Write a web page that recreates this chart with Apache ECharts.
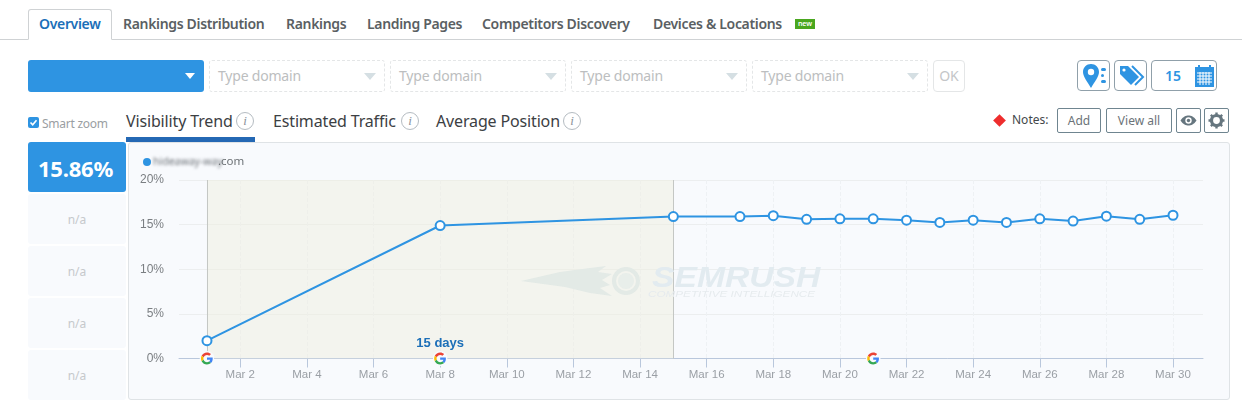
<!DOCTYPE html>
<html>
<head>
<meta charset="utf-8">
<title>Overview</title>
<script src="https://cdn.jsdelivr.net/npm/echarts@6/dist/echarts.min.js"></script>
<style>
    html, body { margin: 0; padding: 0; background: #fff; }
    body { width: 1242px; height: 404px; overflow: hidden; position: relative; font-family: "Noto Sans", sans-serif; }
    #center { position: absolute; left: 0; top: 0; width: 1242px; height: 404px; }
    .a { position: absolute; box-sizing: border-box; white-space: nowrap; }
    .tab { top: 15px; font-size: 14px; line-height: 18px; font-weight: 600; color: #5a5f63; letter-spacing: -0.33px; }
    .pick { top: 60px; width: 176px; height: 32px; border: 1px dashed #e4e6e7; border-radius: 3px; color: #bcbec0; font-size: 14px; line-height: 30px; padding-left: 8px; letter-spacing: -0.2px; }
    .pick i { position: absolute; right: 8px; top: 12px; border: 6px solid transparent; border-top: 7px solid #d5dfe3; border-bottom: 0; }
    .btn { border: 1px solid #6f8590; border-radius: 2px; top: 108px; height: 25px; font-size: 12px; line-height: 23px; text-align: center; color: #6b7378; }
    .tool { top: 60px; height: 31px; border: 1px solid #90a0aa; border-radius: 4px; }
    .metric { top: 111px; font-size: 16px; line-height: 20px; color: #3c4043; letter-spacing: -0.15px; }
    .info { top: 112px; width: 18px; height: 18px; border: 1px solid #b5bcc2; border-radius: 50%; font: italic 13px/16px "Liberation Serif", serif; text-align: center; color: #8a9299; }
    .na { left: 28px; width: 98px; height: 50px; background: #f8fafd; border-radius: 3px; text-align: center; font-size: 12px; line-height: 52px; color: #c6c9cc; }
</style>
</head>
<body>
    <div class="a" style="left:0;top:39px;width:1242px;height:1px;background:#cfd2d4"></div>
    <div class="a" style="left:28px;top:9px;width:84px;height:31px;border:1px solid #cfd2d4;border-bottom:1px solid #fff;border-radius:3px 3px 0 0;background:#fff"></div>
    <div class="a tab" style="left:39px;color:#1b6fb8">Overview</div>
    <div class="a tab" style="left:123px">Rankings Distribution</div>
    <div class="a tab" style="left:286px">Rankings</div>
    <div class="a tab" style="left:367px">Landing Pages</div>
    <div class="a tab" style="left:482px">Competitors Discovery</div>
    <div class="a tab" style="left:653px">Devices &amp; Locations</div>
    <div class="a" style="left:795px;top:19px;width:20px;height:10px;background:#4aa71f;color:#fff;font-size:7px;line-height:10px;text-align:center;font-weight:600">new</div>

    <div class="a" style="left:28px;top:60px;width:176px;height:32px;background:#2e94e2;border-radius:3px">
        <div class="a" style="right:9px;top:13px;border:5px solid transparent;border-top:6px solid #fff;border-bottom:0"></div>
    </div>
    <div class="a pick" style="left:209px">Type domain<i></i></div>
    <div class="a pick" style="left:390px">Type domain<i></i></div>
    <div class="a pick" style="left:571px">Type domain<i></i></div>
    <div class="a pick" style="left:752px">Type domain<i></i></div>
    <div class="a" style="left:933px;top:60px;width:32px;height:32px;border:1px solid #e4e6e7;border-radius:4px;color:#c4c6c8;font-size:14px;line-height:30px;text-align:center">OK</div>

    <div class="a tool" style="left:1077px;width:33px">
        <svg width="31" height="29" viewBox="0 0 31 29"><path d="M13 3c-4.500 0-8 3.500-8 8 0 4.500 4.500 10 8 16 3.500-6 8-11.500 8-16 0-4.500-3.500-8-8-8z" fill="#2e94e2"/><circle cx="13" cy="11" r="3.200" fill="#fff"/><rect x="23" y="7" width="5" height="3" rx="1.500" fill="#2e94e2"/><rect x="23" y="13" width="3" height="3" rx="1.500" fill="#2e94e2"/><rect x="23" y="19" width="5" height="3" rx="1.500" fill="#2e94e2"/></svg>
    </div>
    <div class="a tool" style="left:1114px;width:33px">
        <svg width="31" height="29" viewBox="0 0 31 29"><path d="M5 5h8l11 11-8 8L5 13z" fill="#2e94e2"/><path d="M17 5l11 11-8 8" fill="none" stroke="#2e94e2" stroke-width="2"/><circle cx="9" cy="9" r="1.600" fill="#fff"/></svg>
    </div>
    <div class="a tool" style="left:1151px;width:66px">
        <div class="a" style="left:13px;top:5px;color:#2e94e2;font-size:14px;line-height:20px;font-weight:600">15</div>
        <svg class="a" style="left:43px;top:4px" width="19" height="22" viewBox="0 0 19 22"><rect x="0" y="2" width="19" height="20" fill="#2e94e2"/><rect x="3" y="0" width="2" height="4" fill="#2e94e2"/><rect x="14" y="0" width="2" height="4" fill="#2e94e2"/><path d="M2 8h15M2 11h15M2 14h15M2 17h15M5 7v13M8 7v13M11 7v13M14 7v13" stroke="#fff" stroke-width="1"/></svg>
    </div>

    <div class="a" style="left:28px;top:117px;width:11px;height:11px;background:#2e94e2;border-radius:2px">
        <svg class="a" style="left:0;top:0" width="11" height="11" viewBox="0 0 11 11"><path d="M2.500 5.500l2.200 2.300 3.800-4.500" fill="none" stroke="#fff" stroke-width="1.600"/></svg>
    </div>
    <div class="a" style="left:42px;top:115px;font-size:12px;line-height:17px;color:#9a9ea2;letter-spacing:-0.25px">Smart zoom</div>
    <div class="a metric" style="left:126px">Visibility Trend</div>
    <div class="a info" style="left:236px">i</div>
    <div class="a metric" style="left:273px">Estimated Traffic</div>
    <div class="a info" style="left:401px">i</div>
    <div class="a metric" style="left:436px">Average Position</div>
    <div class="a info" style="left:563px">i</div>
    <div class="a" style="left:126px;top:137px;width:129px;height:5px;background:#2468b4"></div>

    <div class="a" style="left:995px;top:116px;width:9px;height:9px;background:#ee2d2d;transform:rotate(45deg)"></div>
    <div class="a" style="left:1012px;top:111px;font-size:12px;line-height:18px;color:#43474a">Notes:</div>
    <div class="a btn" style="left:1057px;width:44px">Add</div>
    <div class="a btn" style="left:1106px;width:66px">View all</div>
    <div class="a btn" style="left:1176px;width:25px">
        <svg class="a" style="left:3px;top:5px" width="17" height="13" viewBox="0 0 17 13"><path d="M0.500 6.500C3 2.500 6 1.500 8.500 1.500s5.500 1 8 5c-2.500 4-5.500 5-8 5s-5.500-1-8-5z" fill="#66767f"/><circle cx="8.500" cy="6.500" r="3.200" fill="#fff"/><circle cx="8.500" cy="6.500" r="1.700" fill="#66767f"/></svg>
    </div>
    <div class="a btn" style="left:1204px;width:25px">
        <svg class="a" style="left:3px;top:3px" width="17" height="17" viewBox="0 0 17 17"><circle cx="8.500" cy="8.500" r="5" fill="none" stroke="#66767f" stroke-width="3.200"/><path d="M8.500 0.500v16M0.500 8.500h16M2.800 2.800l11.400 11.400M14.200 2.800L2.800 14.200" stroke="#66767f" stroke-width="2.400" stroke-dasharray="2.400 11.200"/></svg>
    </div>

    <div class="a" style="left:28px;top:142px;width:98px;height:50px;background:#2e94e2;border-radius:3px;color:#fff;font-size:22px;font-weight:700;line-height:52px;text-align:center;letter-spacing:-0.2px;padding-right:3px">15.86%</div>
    <div class="a na" style="top:194px">n/a</div>
    <div class="a na" style="top:246px">n/a</div>
    <div class="a na" style="top:298px">n/a</div>
    <div class="a na" style="top:350px">n/a</div>

    <div class="a" style="left:128px;top:142px;width:1102px;height:258px;background:#f8fafd;border:1px solid #dfe3e6;border-radius:3px"></div>
    <div id="center" class="a"></div>
    <div class="a" style="left:153px;top:153px;width:68px;font-size:10.5px;line-height:16px;color:#6f747a;filter:blur(1.500px)">hideaway-way</div>

<script>
    // days of March that have a reading
    var days = [1, 8, 15, 17, 18, 19, 20, 21, 22, 23, 24, 25, 26, 27, 28, 29, 30];
    var visibility = [2.0, 14.9, 15.9, 15.9, 16.0, 15.6, 15.65, 15.65, 15.5, 15.25, 15.5, 15.25, 15.65, 15.4, 15.95, 15.6, 16.05];
    var tickDays = [2, 4, 6, 8, 10, 12, 14, 16, 18, 20, 22, 24, 26, 28, 30];
    var updateDays = [1, 8, 21];
    var rangeDays = [1, 15];
    var rangeLabel = '15 days';
    var seriesName = '.com';

    var blue = '#2e94e2';
    var googleIcon = 'image://data:image/svg+xml,' + encodeURIComponent(
        '<svg xmlns="http://www.w3.org/2000/svg" viewBox="-6 -6 60 60">' +
        '<circle cx="24" cy="24" r="30" fill="#f8fafd"/>' +
        '<path fill="#EA4335" d="M24 9.500c3.500 0 6.700 1.200 9.200 3.600l6.900-6.900C35.900 2.400 30.500 0 24 0 14.600 0 6.500 5.400 2.600 13.200l8 6.200C12.400 13.700 17.700 9.500 24 9.500z"/>' +
        '<path fill="#4285F4" d="M46.900 24.500c0-1.600-.1-3.100-.4-4.500H24v9h12.900c-.6 3-2.200 5.500-4.700 7.200l7.700 6c4.500-4.200 7-10.300 7-17.700z"/>' +
        '<path fill="#FBBC05" d="M10.500 28.600c-.5-1.400-.8-3-.8-4.600s.3-3.200.8-4.600l-8-6.200C.9 16.500 0 20.100 0 24s.9 7.500 2.600 10.800l7.900-6.200z"/>' +
        '<path fill="#34A853" d="M24 48c6.500 0 11.900-2.100 15.900-5.800l-7.700-6c-2.200 1.500-4.900 2.300-8.200 2.300-6.300 0-11.600-4.200-13.500-9.900l-8 6.200C6.500 42.600 14.600 48 24 48z"/>' +
        '</svg>');

    var seriesData = [];
    for (var i = 0; i < days.length; i++) {
        seriesData.push([days[i], visibility[i]]);
    }
    var updateMarks = [];
    for (var j = 0; j < updateDays.length; j++) {
        updateMarks.push({
            coord: [updateDays[j], 0],
            label: {
                show: updateDays[j] === 8,
                formatter: rangeLabel,
                position: 'top',
                distance: 1,
                color: '#1b6fb8',
                fontFamily: 'Liberation Sans',
                fontWeight: 'bold',
                fontSize: 13
            }
        });
    }

    var center = document.getElementById('center');
    var myChart = echarts.init(center);
    var option = {
        animation: false,
        backgroundColor: 'transparent',
        legend: {
            left: 143,
            top: 156,
            padding: 0,
            icon: 'circle',
            itemWidth: 8,
            itemHeight: 8,
            itemGap: 0,
            selectedMode: false,
            itemStyle: { borderWidth: 0 },
            formatter: function (name) { return '{gap|}' + name; },
            textStyle: {
                color: '#6d7276',
                fontFamily: 'Noto Sans',
                fontSize: 11.5,
                rich: { gap: { width: 62 } }
            }
        },
        grid: { left: 179, right: 39, top: 180, bottom: 45.5 },
        xAxis: {
            type: 'value',
            min: 0.16,
            max: 30.9,
            axisLine: { show: true, onZero: false, lineStyle: { color: '#b9c7dc' } },
            axisTick: { show: true, length: 9, customValues: tickDays, lineStyle: { color: '#b9c7dc' } },
            axisLabel: {
                customValues: tickDays,
                margin: 10,
                color: '#9a9fa5',
                fontFamily: 'Liberation Sans',
                fontSize: 11.5,
                formatter: function (v) { return 'Mar ' + v; }
            },
            splitLine: { show: true, lineStyle: { color: '#eef1f4', type: 'dashed' } }
        },
        yAxis: {
            type: 'value',
            min: 0,
            max: 20,
            interval: 5,
            axisLine: { show: false },
            axisTick: { show: false },
            axisLabel: {
                margin: 15,
                padding: [4, 0, 0, 0],
                color: '#7a7e82',
                fontFamily: 'Liberation Sans',
                fontSize: 12,
                formatter: '{value}%'
            },
            splitLine: { lineStyle: { color: '#eceeef' } }
        },
        series: [{
            name: seriesName,
            type: 'line',
            z: 3,
            symbol: 'emptyCircle',
            symbolSize: 9,
            showAllSymbol: true,
            color: blue,
            lineStyle: { width: 2, color: blue },
            itemStyle: { color: blue, borderColor: blue, borderWidth: 2.2 },
            data: seriesData,
            markArea: {
                silent: true,
                itemStyle: { color: 'rgba(238,238,223,0.5)' },
                data: [[{ xAxis: rangeDays[0] }, { xAxis: rangeDays[1] }]]
            },
            markLine: {
                silent: true,
                z: 1,
                symbol: 'none',
                label: { show: false },
                lineStyle: { color: '#c4c7c4', type: 'solid', width: 1 },
                data: [{ xAxis: rangeDays[0] }, { xAxis: rangeDays[1] }]
            },
            markPoint: {
                silent: true,
                symbol: googleIcon,
                symbolSize: 15,
                data: updateMarks
            }
        }],
        // pale watermark across the middle of the plot
        graphic: [{
            type: 'group',
            silent: true,
            children: [{
                type: 'polygon',
                z: 10,
                shape: { points: [[521, 281], [560, 272], [590, 268], [606, 266], [598, 272], [612, 274], [602, 280], [610, 285], [600, 288], [612, 296], [590, 293], [565, 287]] },
                style: { fill: '#e3eae6' }
            }, {
                type: 'circle',
                z: 10,
                shape: { cx: 626, cy: 281, r: 12 },
                style: { fill: 'none', stroke: '#e3eae6', lineWidth: 4 }
            }, {
                type: 'circle',
                z: 10,
                shape: { cx: 626, cy: 281, r: 8 },
                style: { fill: '#e8eeea' }
            }, {
                type: 'text',
                z: 10,
                x: 652,
                y: 264,
                scaleX: 1.16,
                style: { text: 'SEMRUSH', fill: '#e2ebf0', font: 'italic bold 29px "Liberation Sans"' }
            }, {
                type: 'text',
                z: 10,
                x: 648,
                y: 290,
                scaleX: 1.3,
                style: { text: 'COMPETITIVE INTELLIGENCE', fill: '#e6ebee', font: 'italic 9px "Liberation Sans"' }
            }]
        }]
    };
    myChart.setOption(option);
</script>
</body>
</html>
